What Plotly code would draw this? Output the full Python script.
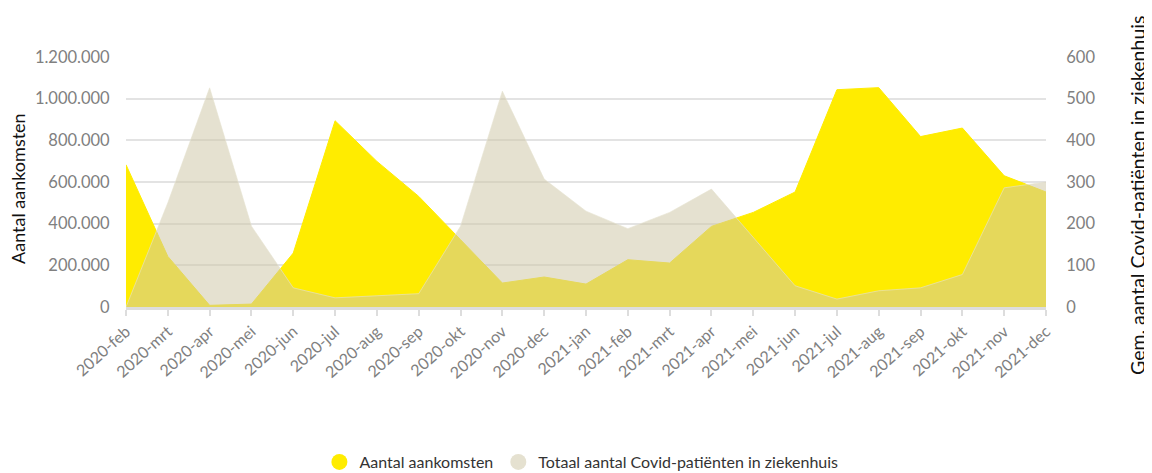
import plotly.graph_objects as go

maanden = ["2020-feb", "2020-mrt", "2020-apr", "2020-mei", "2020-jun", "2020-jul",
           "2020-aug", "2020-sep", "2020-okt", "2020-nov", "2020-dec", "2021-jan",
           "2021-feb", "2021-mrt", "2021-apr", "2021-mei", "2021-jun", "2021-jul",
           "2021-aug", "2021-sep", "2021-okt", "2021-nov", "2021-dec"]

aankomsten = [683000, 243000, 8000, 14000, 259000, 894000,
              699000, 531000, 323000, 115000, 144000, 110000,
              227000, 211000, 387000, 454000, 552000, 1043000,
              1053000, 818000, 859000, 630000, 552000]

patienten = [0, 250, 526, 194, 46, 22,
             27, 32, 194, 518, 307, 230,
             188, 227, 283, 166, 51, 19,
             39, 46, 78, 286, 300]

left_ticks = [0, 200000, 400000, 600000, 800000, 1000000, 1200000]
right_ticks = [0, 100, 200, 300, 400, 500, 600]

YELLOW = "#FFEC00"
GREY_FILL = "rgba(207,199,168,0.54)"
GREY_LEG = "#E5E1D0"
FONT = "Lato"

fig = go.Figure()
fig.add_trace(go.Scatter(
    x=maanden, y=aankomsten, name="Aantal aankomsten", mode="lines",
    line=dict(color=YELLOW, width=1), fill="tozeroy", fillcolor=YELLOW,
    showlegend=False, yaxis="y"))
fig.add_trace(go.Scatter(
    x=maanden, y=patienten, name="Totaal aantal Covid-patiënten in ziekenhuis",
    mode="lines", line=dict(color="rgba(230,226,208,0.6)", width=1),
    fill="tozeroy", fillcolor=GREY_FILL, showlegend=False, yaxis="y2"))
# legend-only entries with circle symbols
fig.add_trace(go.Scatter(
    x=[maanden[0]], y=[None], name="Aantal aankomsten", mode="markers",
    marker=dict(color=YELLOW, size=16, symbol="circle"), yaxis="y"))
fig.add_trace(go.Scatter(
    x=[maanden[0]], y=[None], name="Totaal aantal Covid-patiënten in ziekenhuis",
    mode="markers", marker=dict(color=GREY_LEG, size=16, symbol="circle"), yaxis="y2"))

# the page body adds an 8px offset; figure sized/margined so the plot lands in place
fig.update_layout(
    width=1144, height=465,
    margin=dict(l=118, r=106, t=49, b=166, autoexpand=False),
    paper_bgcolor="white", plot_bgcolor="white",
    separators=",.",
    font=dict(family=FONT, color="#808080", size=16),
    showlegend=True,
    legend=dict(orientation="h", x=0.495, xanchor="center", y=-0.62, yanchor="middle",
                font=dict(size=16, color="#333333"), itemwidth=30,
                traceorder="normal"),
    xaxis=dict(type="category", range=[0, 22], showgrid=False, automargin=False,
               showline=True, linecolor="#dddddd", linewidth=3,
               ticks="outside", ticklen=6, tickcolor="#dddddd", tickwidth=1.5,
               tickangle=-42, tickfont=dict(size=16, color="#808080")),
    yaxis=dict(range=[0, 1200000], tickvals=left_ticks, tickformat=",d",
               automargin=False,
               showgrid=True, gridcolor="#e3e3e3", gridwidth=1.5,
               zeroline=False, ticks="outside", ticklen=12, tickcolor="rgba(0,0,0,0)",
               tickfont=dict(size=16.5, color="#808080")),
    yaxis2=dict(range=[0, 600], tickvals=right_ticks, overlaying="y", side="right",
                automargin=False,
                showgrid=False, zeroline=False, ticks="outside", ticklen=16,
                tickcolor="rgba(0,0,0,0)",
                tickfont=dict(size=16.5, color="#808080")),
    annotations=[
        dict(text="Aantal aankomsten", textangle=-90, xref="paper", yref="paper",
             x=(18 - 126) / 920, y=(307 - 189) / 250, xanchor="center", yanchor="middle",
             showarrow=False, font=dict(size=18, color="#111111", family=FONT)),
        dict(text="Gem. aantal Covid-patiënten in ziekenhuis", textangle=-90,
             xref="paper", yref="paper",
             x=(1137 - 126) / 920, y=(307 - 196) / 250, xanchor="center", yanchor="middle",
             showarrow=False, font=dict(size=19.5, color="#111111", family=FONT)),
    ],
)

fig.write_html("out.html")
